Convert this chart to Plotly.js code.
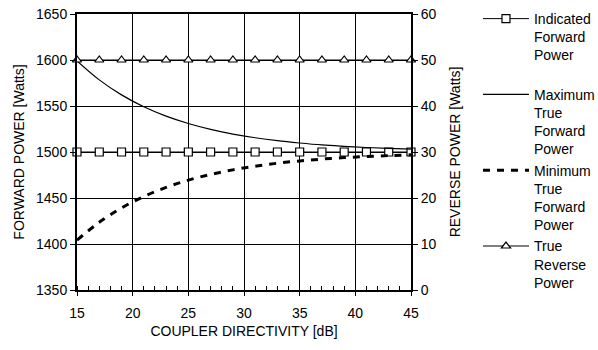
<!DOCTYPE html>
<html>
<head>
<meta charset="utf-8">
<script src="https://cdn.plot.ly/plotly-3.0.1.min.js"></script>
<style>html,body{margin:0;padding:0;background:#fff;}#chart{width:598px;height:350px;}</style>
</head>
<body>
<div id="chart"></div>
<script>
// Coupler directivity [dB]
var directivity = [15, 17, 19, 21, 23, 25, 27, 29, 31, 33, 35, 37, 39, 41, 43, 45];
// Forward power series [Watts]
var indicatedForward = [1500, 1500, 1500, 1500, 1500, 1500, 1500, 1500, 1500, 1500, 1500, 1500, 1500, 1500, 1500, 1500];
var maxTrueForward = [1599.0, 1578.4, 1562.1, 1549.2, 1539.0, 1531.0, 1524.6, 1519.5, 1515.5, 1512.3, 1509.8, 1507.7, 1506.2, 1504.9, 1503.9, 1503.1];
var minTrueForward = [1404.2, 1423.6, 1439.2, 1451.6, 1461.5, 1469.4, 1475.6, 1480.6, 1484.6, 1487.8, 1490.3, 1492.3, 1493.9, 1495.1, 1496.1, 1496.9];
// Reverse power series [Watts]
var trueReverse = [50, 50, 50, 50, 50, 50, 50, 50, 50, 50, 50, 50, 50, 50, 50, 50];

var seriesNames = [
  "Indicated<br>Forward<br>Power<br>&nbsp;",
  "Maximum<br>True<br>Forward<br>Power",
  "Minimum<br>True<br>Forward<br>Power",
  "True<br>Reverse<br>Power<br>&nbsp;"
];

var FONT = "Liberation Sans, Arial, sans-serif";

var traces = [
  {
    x: directivity, y: indicatedForward, name: seriesNames[0], type: "scatter", mode: "lines+markers",
    line: {color: "#000", width: 1},
    marker: {symbol: "square", size: 8, color: "#fff", line: {color: "#000", width: 1.2}},
    cliponaxis: false, yaxis: "y"
  },
  {
    x: directivity, y: maxTrueForward, name: seriesNames[1], type: "scatter", mode: "lines",
    line: {color: "#000", width: 1.2, shape: "spline"},
    yaxis: "y"
  },
  {
    x: directivity, y: minTrueForward, name: seriesNames[2], type: "scatter", mode: "lines",
    line: {color: "#000", width: 3, dash: "7px,7px", shape: "spline"},
    yaxis: "y"
  },
  {
    x: directivity, y: trueReverse, name: seriesNames[3], type: "scatter", mode: "lines+markers",
    line: {color: "#000", width: 1},
    marker: {symbol: "triangle-up", size: 8, color: "#fff", line: {color: "#000", width: 1.2}},
    cliponaxis: false, yaxis: "y2"
  }
];

var layout = {
  width: 598, height: 350,
  margin: {l: 77, r: 187, t: 14, b: 60, pad: 0, autoexpand: false},
  paper_bgcolor: "#fff", plot_bgcolor: "#fff",
  font: {family: FONT, size: 14, color: "#000"},
  showlegend: true,
  legend: {
    xref: "container", yref: "container",
    x: 0.7993, xanchor: "left", y: 0.9914, yanchor: "top",
    font: {family: FONT, size: 14, color: "#000"},
    valign: "top", itemwidth: 46, tracegroupgap: 0, itemgap: 2, maxheight: 400,
    bgcolor: "rgba(0,0,0,0)", borderwidth: 0
  },
  xaxis: {
    range: [15, 45], tick0: 15, dtick: 5,
    showgrid: true, gridcolor: "#000", gridwidth: 1,
    showline: true, linecolor: "#000", linewidth: 2, mirror: true,
    ticks: "outside", ticklen: 4, tickcolor: "#000", tickwidth: 1,
    minor: {dtick: 1, ticks: "inside", ticklen: 4, tickcolor: "#000", tickwidth: 1, showgrid: false},
    zeroline: false, fixedrange: true, automargin: false,
    tickfont: {family: FONT, size: 14, color: "#000"},
    ticklabelstandoff: 5,
    title: {text: "COUPLER DIRECTIVITY [dB]", font: {family: FONT, size: 14, color: "#000"}, standoff: 6}
  },
  yaxis: {
    range: [1350, 1650], tick0: 1350, dtick: 50,
    showgrid: true, gridcolor: "#000", gridwidth: 1,
    showline: true, linecolor: "#000", linewidth: 2,
    ticks: "outside", ticklen: 5, tickcolor: "#000", tickwidth: 1,
    zeroline: false, fixedrange: true, automargin: false,
    tickfont: {family: FONT, size: 14, color: "#000"},
    title: {text: "FORWARD POWER [Watts]", font: {family: FONT, size: 14, color: "#000"}, standoff: 8}
  },
  yaxis2: {
    range: [0, 60], tick0: 0, dtick: 10,
    overlaying: "y", side: "right", anchor: "x",
    showgrid: false,
    showline: true, linecolor: "#000", linewidth: 2,
    ticks: "outside", ticklen: 5, tickcolor: "#000", tickwidth: 1,
    zeroline: false, fixedrange: true, automargin: false,
    tickfont: {family: FONT, size: 14, color: "#000"},
    title: {text: "REVERSE POWER [Watts]", font: {family: FONT, size: 14, color: "#000"}, standoff: 15}
  }
};

Plotly.newPlot("chart", traces, layout, {staticPlot: true, displayModeBar: false});
</script>
</body>
</html>
